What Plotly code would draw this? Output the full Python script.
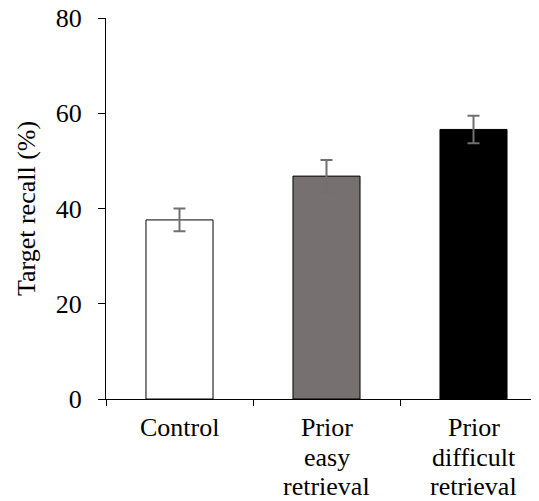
import plotly.graph_objects as go

categories = ["Control", "Prior easy retrieval", "Prior difficult retrieval"]
label_lines = [["Control"], ["Prior", "easy", "retrieval"], ["Prior", "difficult", "retrieval"]]
recall = [37.6, 46.8, 56.6]
errors = [2.4, 3.4, 2.9]
bar_colors = ["#ffffff", "#767170", "#000000"]
y_ticks = [0, 20, 40, 60, 80]

FONT = "Liberation Serif, Times New Roman, serif"

fig = go.Figure(go.Bar(
    x=categories,
    y=recall,
    width=0.456,
    marker=dict(color=bar_colors, line=dict(color="#000000", width=1)),
    error_y=dict(type="data", array=errors, visible=True, color="#707070", thickness=2, width=6),
))

annotations = []
for cat, lines in zip(categories, label_lines):
    for j, line in enumerate(lines):
        annotations.append(dict(
            x=cat, xref="x", y=0, yref="paper",
            yanchor="top", xanchor="center",
            yshift=-(12 + 29.5 * j),
            text=line, showarrow=False,
            font=dict(family=FONT, size=26, color="#000000"),
        ))

fig.update_layout(
    width=539, height=501,
    margin=dict(l=98, r=0, t=10, b=110),
    paper_bgcolor="white", plot_bgcolor="white",
    font=dict(family=FONT, size=26, color="#000000"),
    showlegend=False,
    annotations=annotations,
)
fig.update_xaxes(
    range=[-0.5, 2.5],
    showline=True, linecolor="#000000", linewidth=1,
    ticks="outside", tickson="boundaries", ticklen=6, tickcolor="#000000",
    showticklabels=False,
    showgrid=False, zeroline=False,
    automargin=False,
)
fig.update_yaxes(
    range=[0, 80], tickvals=y_ticks,
    showline=True, linecolor="#000000", linewidth=1,
    ticks="outside", ticklen=7, tickcolor="#000000",
    showgrid=False, zeroline=False,
    tickfont=dict(size=26),
    ticklabelstandoff=11,
    ticklabeloverflow="allow",
    title=dict(text="Target recall (%)", font=dict(size=26), standoff=12),
    automargin=False,
)

fig.write_html("out.html")
